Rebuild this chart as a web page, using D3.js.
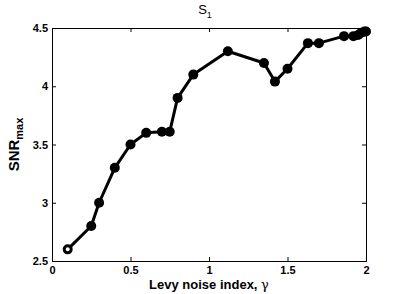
<!DOCTYPE html>
<html>
<head>
<meta charset="utf-8">
<script src="https://cdn.jsdelivr.net/npm/d3@7"></script>
<style>
  body { margin: 0; background: #fff; }
  text { font-family: "Liberation Sans", Arial, sans-serif; font-weight: bold; fill: #000; }
</style>
</head>
<body>
<svg id="chart"></svg>
<script>
// levy noise index values and max SNR
const gammaVals = [0.1, 0.25, 0.3, 0.4, 0.5, 0.6, 0.7, 0.75, 0.8, 0.9, 1.12, 1.35, 1.42, 1.5, 1.63, 1.7, 1.86, 1.92, 1.95, 1.97, 1.99, 2.0];
const snrVals = [2.6, 2.8, 3.0, 3.3, 3.5, 3.6, 3.61, 3.61, 3.9, 4.1, 4.3, 4.2, 4.04, 4.15, 4.37, 4.37, 4.43, 4.43, 4.44, 4.46, 4.47, 4.47];
const xTicks = [0, 0.5, 1, 1.5, 2];
const yTicks = [2.5, 3, 3.5, 4, 4.5];

const width = 403, height = 294;
const margin = { top: 28, right: 37, bottom: 33, left: 52 };
const w = width - margin.left - margin.right;
const h = height - margin.top - margin.bottom;

const svg = d3.select('#chart').attr('width', width).attr('height', height);
const g = svg.append('g').attr('transform', `translate(${margin.left},${margin.top})`);

const x = d3.scaleLinear().domain([0, 2]).range([0, w]);
const y = d3.scaleLinear().domain([2.5, 4.5]).range([h, 0]);

// axes (MATLAB style, ticks inside)
const fmt = d => d3.format('')(d);
g.append('g').attr('transform', `translate(0,${h})`)
  .call(d3.axisBottom(x).tickValues(xTicks).tickSize(-4).tickPadding(5).tickFormat(fmt))
  .call(a => a.selectAll('text').style('font-size', '11px'));
g.append('g')
  .call(d3.axisLeft(y).tickValues(yTicks).tickSize(-4).tickPadding(4).tickFormat(fmt))
  .call(a => a.selectAll('text').style('font-size', '11px'));
g.append('g')
  .call(d3.axisTop(x).tickValues(xTicks).tickSize(-4).tickFormat(''));
g.append('g').attr('transform', `translate(${w},0)`)
  .call(d3.axisRight(y).tickValues(yTicks).tickSize(-4).tickFormat(''));
g.selectAll('.domain').attr('stroke', '#000').attr('stroke-width', 1);
g.selectAll('.tick line').attr('stroke', '#000');

const pts = gammaVals.map((v, i) => ({ x: v, y: snrVals[i] }));

g.append('path').datum(pts)
  .attr('fill', 'none').attr('stroke', '#000').attr('stroke-width', 3)
  .attr('stroke-linejoin', 'round')
  .attr('d', d3.line().x(d => x(d.x)).y(d => y(d.y)));

g.selectAll('.dot').data(pts).enter().append('circle')
  .attr('class', 'dot')
  .attr('cx', d => x(d.x)).attr('cy', d => y(d.y))
  .attr('r', (d, i) => i === 0 ? 3.5 : 5)
  .attr('fill', (d, i) => i === 0 ? '#fff' : '#000')
  .attr('stroke', '#000').attr('stroke-width', (d, i) => i === 0 ? 3 : 0);

// title
const title = svg.append('text').attr('x', 205).attr('y', 14)
  .attr('text-anchor', 'middle').style('font-size', '13px').style('font-weight', 'normal');
title.append('tspan').text('S');
title.append('tspan').attr('dy', 4).style('font-size', '9px').text('1');

// x label
const xl = svg.append('text').attr('x', margin.left + w / 2).attr('y', 289)
  .attr('text-anchor', 'middle').style('font-size', '13px');
xl.append('tspan').text('Levy noise index, ');
xl.append('tspan').style('font-weight', 'normal').style('font-family', 'DejaVu Serif').text('γ');

// y label
const yl = svg.append('text')
  .attr('transform', `translate(19,${margin.top + h / 2}) rotate(-90)`)
  .attr('text-anchor', 'middle').style('font-size', '15px');
yl.append('tspan').text('SNR');
yl.append('tspan').attr('dy', 4).style('font-size', '11px').text('max');
</script>
</body>
</html>
